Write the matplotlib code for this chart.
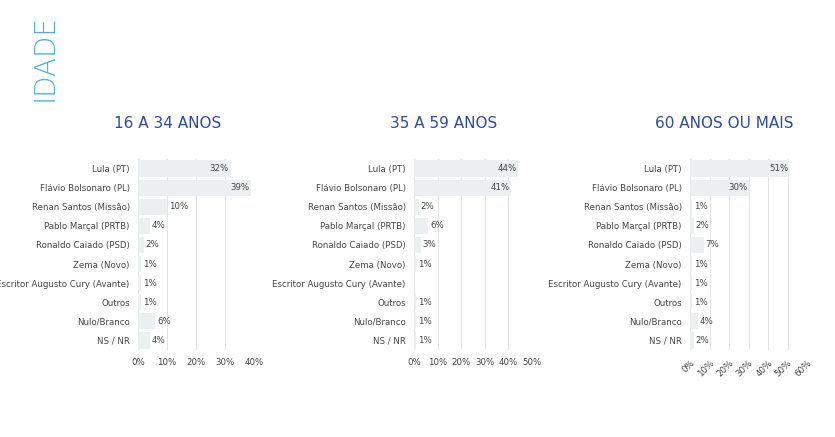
import numpy as np
import matplotlib.pyplot as plt

candidates = ["Lula (PT)", "Flávio Bolsonaro (PL)", "Renan Santos (Missão)", "Pablo Marçal (PRTB)",
              "Ronaldo Caiado (PSD)", "Zema (Novo)", "Escritor Augusto Cury (Avante)", "Outros",
              "Nulo/Branco", "NS / NR"]
titles = ["16 A 34 ANOS", "35 A 59 ANOS", "60 ANOS OU MAIS"]
age_16_34 = [32, 39, 10, 4, 2, 1, 1, 1, 6, 4]
age_35_59 = [44, 41, 2, 6, 3, 1, 0, 1, 1, 1]
age_60 = [51, 30, 1, 2, 7, 1, 1, 1, 4, 2]
series = [age_16_34, age_35_59, age_60]
xmax = [40, 50, 60]

plt.rcParams['font.family'] = ['DejaVu Sans']
fig = plt.figure(figsize=(8.35, 4.37), dpi=100)
fig.patch.set_facecolor('white')

# axes placement in pixels: left, right
lefts = [138, 414, 690]
rights = [254, 532, 807]
W, H = 835, 437
y_top, y_bot = 159, 350

fig.text(45 / W, 1 - 58 / H, "IDADE", rotation=90, ha='center', va='center',
         color='#45b3dd', fontsize=20, fontweight='light')

for i in range(3):
    ax = fig.add_axes([lefts[i] / W, 1 - y_bot / H, (rights[i] - lefts[i]) / W, (y_bot - y_top) / H])
    vals = series[i]
    y = np.arange(len(candidates))
    ax.barh(y, vals, height=0.85, color='#ebefef', zorder=2)
    for yy, v in zip(y, vals):
        if v == 0:
            continue
        lab = f"{v}%"
        if v >= 15:
            ax.text(v - 0.6, yy, lab, ha='right', va='center', fontsize=6.2, color='#444444', zorder=3)
        else:
            ax.text(max(v, 1) + 0.6 * xmax[i] / 40, yy, lab, ha='left', va='center', fontsize=6.2,
                    color='#444444', zorder=3)
    ax.set_ylim(len(candidates) - 0.5, -0.5)
    ax.set_xlim(0, xmax[i])
    ticks = np.arange(0, xmax[i] + 1, 10)
    ax.set_xticks(ticks)
    if i == 2:
        ax.set_xticklabels([f"{t}%" for t in ticks], fontsize=6.2, color='#444444',
                           rotation=45, ha='right', rotation_mode='anchor')
    else:
        ax.set_xticklabels([f"{t}%" for t in ticks], fontsize=6.2, color='#444444')
    ax.set_yticks(y)
    ax.set_yticklabels(candidates, fontsize=6.2, color='#444444')
    ax.tick_params(length=0, pad=6)
    ax.grid(axis='x', color='#e4e4e4', linewidth=0.8, zorder=0)
    for s in ax.spines.values():
        s.set_visible(False)
    cx = [168, 444, 724][i] / W
    fig.text(cx, 1 - 123 / H, titles[i], ha='center', va='center', color='#2d4aa8',
             fontsize=11)

fig.savefig("out.png", dpi=100)
